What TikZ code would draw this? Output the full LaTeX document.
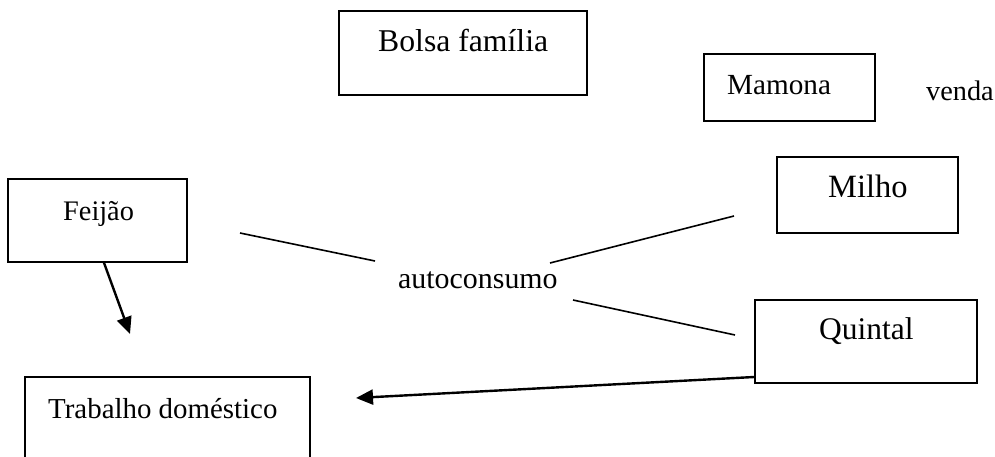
\documentclass[tikz,border=0pt]{standalone}
\usepackage{fontspec}
\setmainfont{Liberation Serif}
\usetikzlibrary{arrows.meta}
\tikzset{
  box/.style={draw, line width=1.6pt, rectangle, inner sep=0pt},
  lbl/.style={anchor=base west, inner sep=0pt, font=\fontsize{#1}{35}\selectfont},
  lbl/.default=29.5,
  thinline/.style={line width=1.6pt},
  arr/.style={line width=2.4pt, -{Triangle[length=17pt,width=15pt]}}
}
\begin{document}
\begin{tikzpicture}[x=1pt,y=-1pt]
\useasboundingbox (0,0) rectangle (995,457);
\clip (0,0) rectangle (995,457);
% boxes
\node[box, minimum width=248pt, minimum height=84pt] (bolsa) at (463,53) {};
\node[box, minimum width=171pt, minimum height=67pt] (mamona) at (789.5,87.5) {};
\node[box, minimum width=181pt, minimum height=76pt] (milho) at (867.5,195) {};
\node[box, minimum width=179pt, minimum height=83pt] (feijao) at (97.5,220.5) {};
\node[box, minimum width=285pt, minimum height=100pt] (trab) at (167.5,427) {};
\node[box, minimum width=222pt, minimum height=83pt] (quintal) at (866,341.5) {};
% texts
\node[lbl=31.7] (tbolsa) at (378,52) {Bolsa família};
\node[lbl=29.2] (tmamona) at (727,95) {Mamona};
\node[lbl=28.3] (tvenda) at (926,101) {venda};
\node[lbl=32.5] (tmilho) at (828,197) {Milho};
\node[lbl=28.3] (tfeijao) at (63,220) {Feijão};
\node[lbl=28.9] (ttrab) at (48,418) {Trabalho doméstico};
\node[lbl=31.5] (tquintal) at (819,339) {Quintal};
\node[lbl=29.9] (tauto) at (398,288) {autoconsumo};
% free ends
\coordinate (a1) at (240,233);
\coordinate (a2) at (375,261);
\coordinate (b1) at (550,263);
\coordinate (b2) at (734,216);
\coordinate (c1) at (573,300);
\coordinate (c2) at (735,335);
\coordinate (ftip) at (130,334);
\coordinate (qtip) at (356,398);
% connectors
\draw[thinline] (a1) -- (a2);
\draw[thinline] (b1) -- (b2);
\draw[thinline] (c1) -- (c2);
\draw[arr] ([xshift=6.5pt]feijao.south) -- (ftip);
\draw[arr] ([yshift=-35.5pt]quintal.west) -- (qtip);
\end{tikzpicture}
\end{document}
